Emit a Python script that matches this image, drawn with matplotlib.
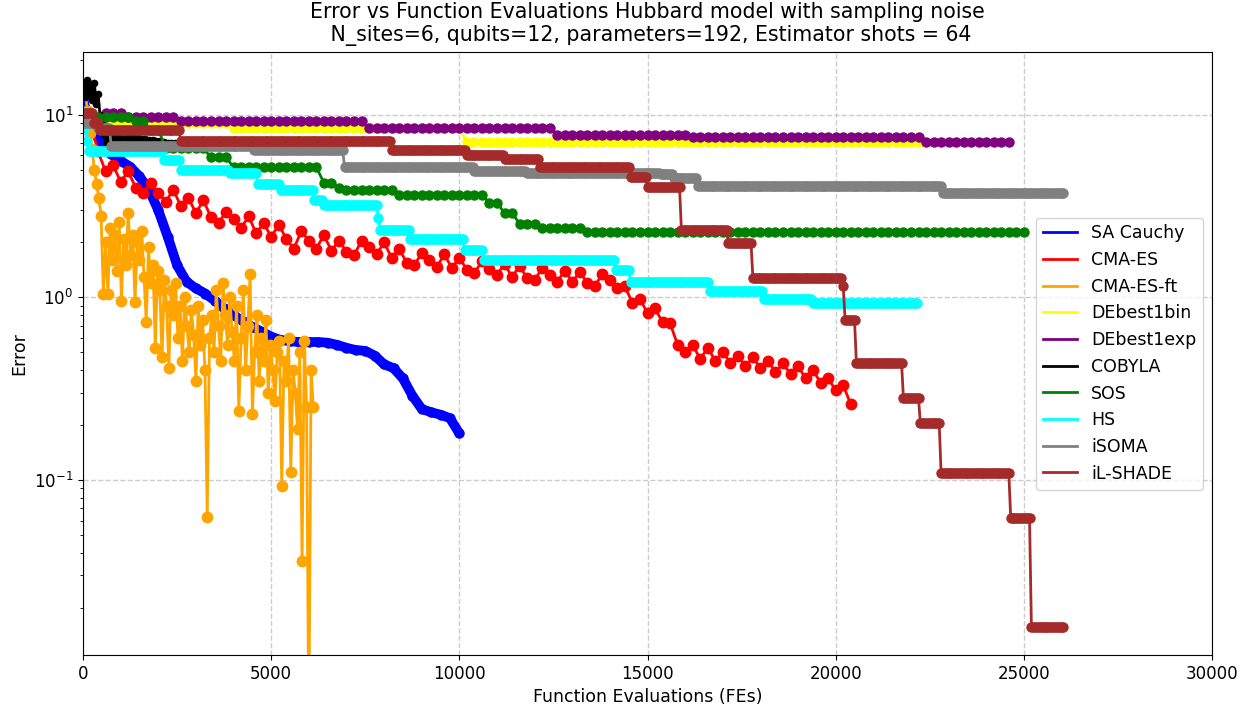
import numpy as np
import matplotlib
matplotlib.use("Agg")
import matplotlib.pyplot as plt
from matplotlib.lines import Line2D

# ---- data ----
# SA Cauchy, sampled every 250 FEs
blue_err = [12, 8.5, 6.8, 6.1, 5.6, 5.2, 4.6, 3.9, 3.0, 2.15, 1.5, 1.22, 1.12, 1.05, 0.96,
            0.87, 0.8, 0.74, 0.69, 0.65, 0.61, 0.585, 0.575, 0.57, 0.57, 0.57, 0.565, 0.55,
            0.53, 0.515, 0.51, 0.48, 0.43, 0.41, 0.36, 0.29, 0.245, 0.235, 0.228, 0.218, 0.18]

# CMA-ES, sampled every 200 FEs starting at 200
red_err = [9.0, 6.3, 4.9, 5.3, 4.3, 4.9, 4.0, 3.75, 4.25, 3.75, 3.35, 3.9, 3.15, 3.5, 2.9, 3.4,
           2.75, 2.55, 2.95, 2.7, 2.4, 2.78, 2.25, 2.55, 2.15, 2.5, 2.1, 1.85, 2.3, 2.05, 1.85,
           2.2, 1.8, 2.05, 1.78, 1.7, 2.05, 1.9, 1.72, 2.0, 1.65, 1.85, 1.55, 1.5, 1.75, 1.6,
           1.47, 1.72, 1.45, 1.65, 1.42, 1.36, 1.58, 1.43, 1.33, 1.52, 1.3, 1.48, 1.28, 1.24,
           1.45, 1.33, 1.22, 1.4, 1.22, 1.38, 1.2, 1.16, 1.34, 1.24, 1.12, 1.15, 0.93, 0.98,
           0.82, 0.87, 0.73, 0.72, 0.55, 0.5, 0.55, 0.46, 0.53, 0.45, 0.5, 0.44, 0.48, 0.42,
           0.47, 0.41, 0.45, 0.39, 0.435, 0.38, 0.42, 0.36, 0.4, 0.34, 0.36, 0.31, 0.33, 0.26]

# CMA-ES-ft, sampled every 60 FEs
orange_err = [14.5, 13, 10.5, 8, 6.5, 5, 4.2, 3.5, 2.8, 1.05, 2.0, 1.05, 2.4, 1.6, 2.2, 1.4,
              2.6, 0.96, 2.1, 1.5, 2.9, 1.7, 2.2, 0.94, 2.0, 1.6, 2.3, 1.3, 0.73, 1.88, 1.2,
              1.5, 0.53, 1.4, 1.1, 0.47, 1.25, 0.9, 0.41, 1.1, 0.8, 1.2, 0.6, 0.9, 0.45, 1.0,
              0.7, 0.5, 0.85, 0.62, 0.35, 0.9, 0.55, 0.75, 0.4, 0.063, 0.6, 0.8, 0.5, 1.1, 0.7,
              0.45, 1.2, 0.8, 0.55, 1.0, 0.65, 0.45, 0.9, 0.24, 0.6, 1.1, 0.4, 0.7, 1.35, 0.23,
              0.5, 0.8, 0.35, 0.6, 0.45, 0.75, 0.3, 0.55, 0.4, 0.27, 0.5, 0.58, 0.093, 0.45,
              0.35, 0.6, 0.11, 0.4, 0.3, 0.19, 0.5, 0.036, 0.58, 0.25, 0.004, 0.4, 0.25]

# COBYLA, sampled every 50 FEs
black_err = [15, 12.5, 15.5, 13, 14.8, 12, 15, 11.5, 13, 10, 9, 7.9, 6.4, 7.85, 6.4, 7.8, 6.45,
             7.75, 6.45, 7.7, 6.5, 7.65, 6.5, 7.6, 6.5, 7.55, 6.55, 7.5, 6.55, 7.45, 6.55, 7.4,
             6.6, 7.35, 6.6, 7.3, 6.6, 7.25, 6.6, 7.2, 6.65, 7.15, 6.65, 7.1, 6.65, 7.05, 6.65,
             7.0, 6.7, 6.98, 6.7, 6.95, 6.7, 6.92, 6.7, 6.9, 6.72, 6.88, 6.72, 6.85, 6.72, 6.82,
             6.74, 6.8, 6.74, 6.78, 6.75, 6.77, 6.75, 6.76, 6.75]

# step-like runs: error level and the FE where that level ends
yellow_level = [9.5, 9.0, 8.45, 7.1]
yellow_end = [700, 3900, 10200, 22400]

purple_level = [10.2, 9.7, 9.2, 8.45, 7.8, 7.57, 7.1]
purple_end = [1100, 2600, 7550, 12600, 16100, 22400, 24700]

green_level = [9.9, 9.7, 9.2, 8.3, 6.55, 5.85, 5.16, 4.25, 4.0, 3.86, 3.62, 3.31, 2.89,
               2.54, 2.39, 2.27]
green_end = [300, 1300, 1800, 2200, 3300, 3900, 6300, 6700, 7000, 8250, 10700, 11100,
             11500, 12100, 13300, 25100]

cyan_level = [10.5, 8.5, 7.2, 6.3, 5.63, 4.97, 4.8, 4.16, 3.86, 3.40, 3.19, 2.71, 2.33, 2.10,
              1.81, 1.60, 1.41, 1.21, 1.08, 0.975, 0.927]
cyan_end = [50, 100, 150, 2130, 2580, 3900, 4620, 5230, 6110, 6380, 7810, 7890, 8690, 10150,
            10630, 14150, 14530, 16620, 18070, 19400, 22200]

gray_level = [9.0, 8.5, 6.72, 6.39, 5.16, 4.9, 4.81, 4.72, 4.49, 4.06, 3.72]
gray_end = [370, 720, 4520, 6910, 10360, 11800, 15330, 15680, 16310, 22850, 26100]

brown_level = [10.2, 9.0, 8.22, 7.15, 6.39, 6.0, 5.7, 5.2, 4.57, 4.03, 2.33, 1.98, 1.27, 1.15,
               0.75, 0.435, 0.28, 0.204, 0.109, 0.062, 0.0156]
brown_end = [270, 450, 2580, 8160, 10200, 11160, 12140, 14530, 14990, 15860, 17110, 17800,
             20170, 20250, 20510, 21760, 22240, 22770, 24630, 25160, 26100]

labels = ['SA Cauchy', 'CMA-ES', 'CMA-ES-ft', 'DEbest1bin', 'DEbest1exp', 'COBYLA', 'SOS',
          'HS', 'iSOMA', 'iL-SHADE']
colors = ['blue', 'red', 'orange', 'yellow', 'purple', 'black', 'green', 'cyan', 'gray', 'brown']


def steps(level, end, start, every):
    fes = np.arange(start, end[-1], every)
    idx = np.searchsorted(end, fes, side='right')
    return fes, np.array(level)[idx]


series = {
    'SA Cauchy': (np.arange(len(blue_err)) * 250, np.array(blue_err)),
    'CMA-ES': (200 + np.arange(len(red_err)) * 200, np.array(red_err)),
    'CMA-ES-ft': (np.arange(len(orange_err)) * 60, np.array(orange_err)),
    'DEbest1bin': steps(yellow_level, yellow_end, 400, 200),
    'DEbest1exp': steps(purple_level, purple_end, 600, 200),
    'COBYLA': (np.arange(len(black_err)) * 50, np.array(black_err)),
    'SOS': steps(green_level, green_end, 200, 200),
    'HS': steps(cyan_level, cyan_end, 0, 50),
    'iSOMA': steps(gray_level, gray_end, 0, 50),
    'iL-SHADE': steps(brown_level, brown_end, 0, 50),
}

fig = plt.figure(figsize=(12.43, 7.12), dpi=100)
ax = fig.add_axes([0.0668, 0.080, 0.9083, 0.847])

for name, c in zip(labels, colors):
    x, y = series[name]
    if name == 'SA Cauchy':
        ax.plot(x, y, color=c, lw=7, marker='o', ms=6.5, solid_capstyle='round')
    elif name == 'COBYLA':
        ax.plot(x, y, color=c, lw=2, marker='o', ms=4.5)
    elif name in ('CMA-ES', 'CMA-ES-ft'):
        ax.plot(x, y, color=c, lw=2, marker='o', ms=7.5)
    else:
        ax.plot(x, y, color=c, lw=2, marker='o', ms=6.5)

ax.set_yscale('log')
ax.set_xlim(0, 30000)
ax.set_ylim(0.011, 22.1)
ax.grid(True, which='major', linestyle='--', color='#cccccc', linewidth=1)
ax.tick_params(labelsize=12)
ax.set_xlabel('Function Evaluations (FEs)', fontsize=12.5)
ax.set_ylabel('Error', fontsize=12.5)
ax.set_title('Error vs Function Evaluations Hubbard model with sampling noise\n'
             ' N_sites=6, qubits=12, parameters=192, Estimator shots = 64',
             fontsize=14.8, linespacing=1.15, pad=8)

handles = [Line2D([0], [0], color=c, lw=2) for c in colors]
ax.legend(handles, labels, loc='center right', fontsize=12.5)

fig.savefig('out.png', dpi=100)
